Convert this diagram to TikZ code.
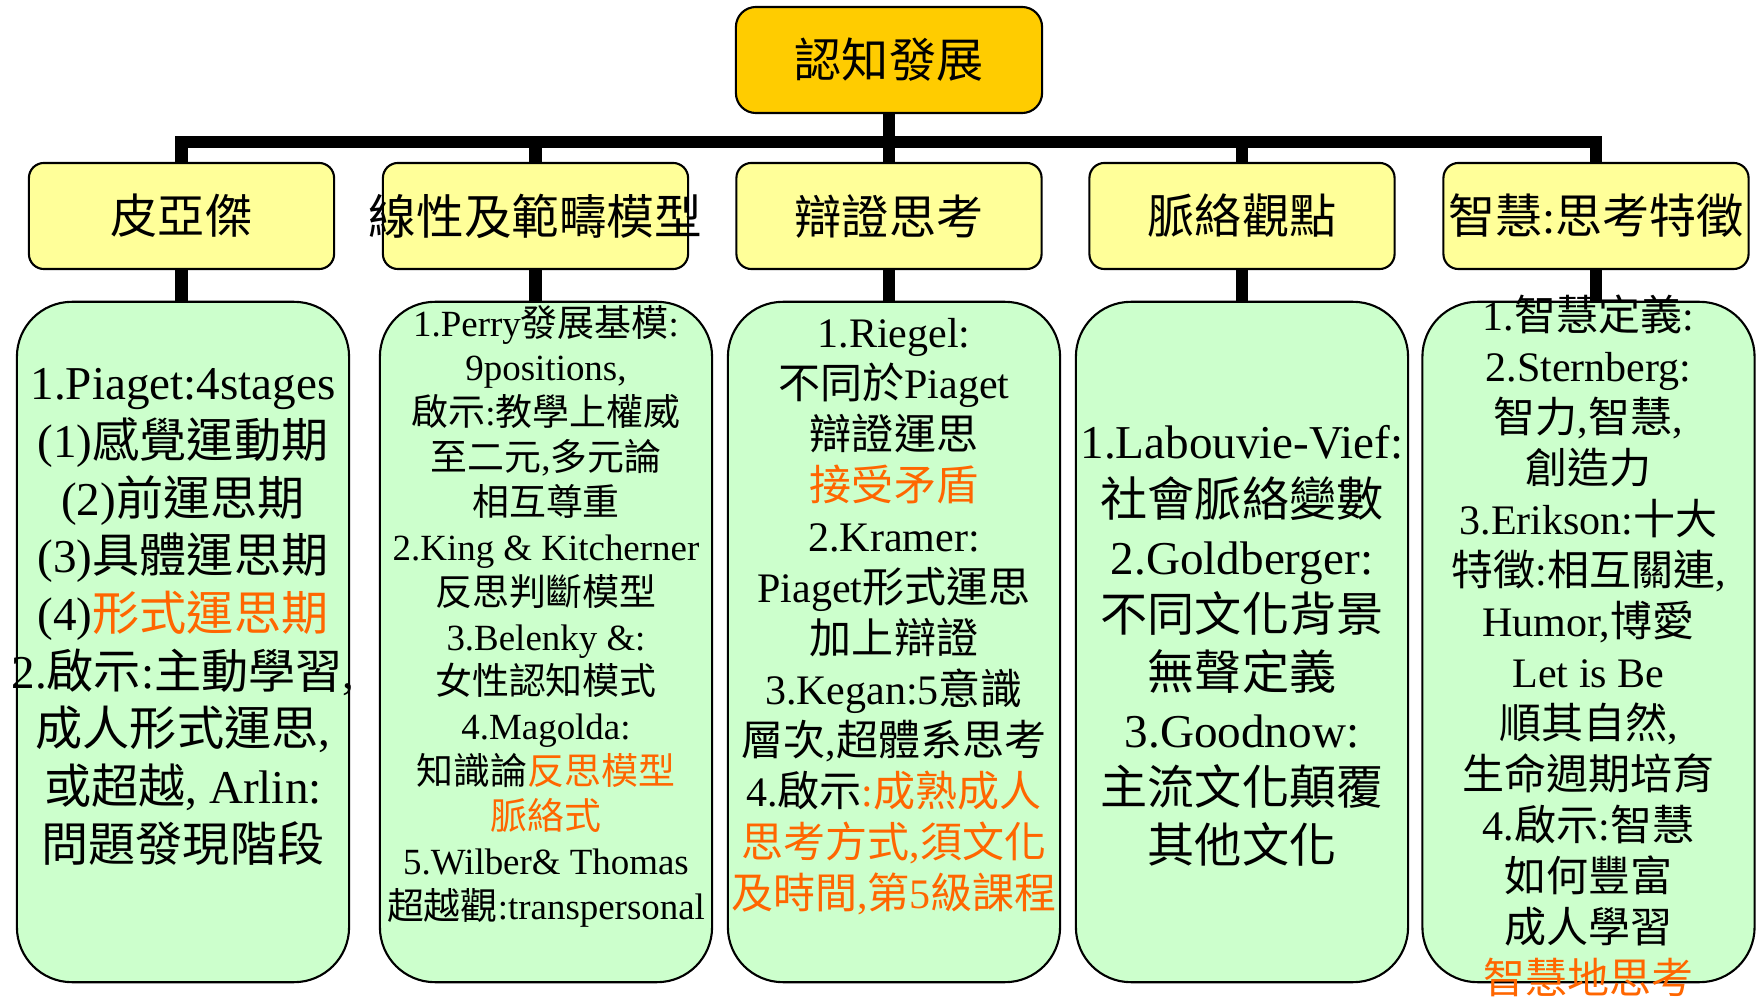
\documentclass[tikz,border=0pt]{standalone}
\usepackage{fontspec}
\setmainfont{Liberation Serif}
\newfontfamily\cjkfont{Noto Sans CJK TC}
\newfontfamily\latfont{Liberation Serif}
\XeTeXinterchartokenstate=1
\newXeTeXintercharclass\hanclass
\count255="4E00
\loop
  \XeTeXcharclass\count255=\hanclass
\ifnum\count255<"9FFF \advance\count255 by 1
\repeat
\XeTeXinterchartoks 0 \hanclass = {\cjkfont}
\XeTeXinterchartoks 4095 \hanclass = {\cjkfont}
\XeTeXinterchartoks \hanclass 0 = {\latfont}
\XeTeXinterchartoks 4095 0 = {\latfont}
\definecolor{rootfill}{HTML}{FFCC00}
\definecolor{headfill}{HTML}{FFFF99}
\definecolor{leaffill}{HTML}{CCFFCC}
\definecolor{accent}{HTML}{FF6600}
\begin{document}
\begin{tikzpicture}[x=0.01cm,y=-0.01cm]
	\tikzstyle{every node}+=[inner sep=0pt]
	\tikzset{
		root/.style={draw=black,line width=0.6pt,fill=rootfill,rounded corners=0.2cm,
			minimum width=3.06cm,minimum height=1.06cm,font=\fontsize{13.4}{16}\selectfont},
		head/.style={draw=black,line width=0.6pt,fill=headfill,rounded corners=0.15cm,
			minimum width=3.05cm,minimum height=1.06cm,font=\fontsize{13.4}{16}\selectfont},
		leaf/.style={draw=black,line width=0.6pt,fill=leaffill,rounded corners=0.55cm,
			minimum width=3.32cm,minimum height=6.8cm},
		big/.style={align=center,font=\fontsize{13.4}{16.4}\selectfont},
		mid/.style={align=center,font=\fontsize{11.95}{14.5}\selectfont},
		small/.style={align=center,font=\fontsize{10.5}{12.75}\selectfont},
		conn/.style={line width=0.12cm}
	}
	\useasboundingbox (0,0) rectangle (1756,997);
	\node [root] (root) at (889,60) {認知發展};
	\node [head] (s1) at (181.5,216) {皮亞傑};
	\node [head] (s2) at (535.5,216) {\makebox[0pt]{\fontsize{13.55}{16}\selectfont 線性及範疇模型}};
	\node [head] (s3) at (889,216) {辯證思考};
	\node [head] (s4) at (1242,216) {脈絡觀點};
	\node [head] (s5) at (1596,216) {\makebox[0pt]{智慧:思考特徵}};
	\node [leaf] (d1) at (183,642) {};
	\node [leaf] (d2) at (546,642) {};
	\node [leaf] (d3) at (894,642) {};
	\node [leaf] (d4) at (1242,642) {};
	\node [leaf] (d5) at (1588.5,642) {};
	\node [big] (t1) at (183,617) {1.Piaget:4stages\\(1)感覺運動期\\(2)前運思期\\(3)具體運思期\\(4){\color{accent}形式運思期}\\2.啟示:主動學習,\\成人形式運思,\\或超越, Arlin:\\問題發現階段};
	\node [small] (t2) at (546,616) {1.Perry發展基模:\\9positions,\\啟示:教學上權威\\至二元,多元論\\相互尊重\\2.King \& Kitcherner\\反思判斷模型\\3.Belenky \&:\\女性認知模式\\4.Magolda:\\知識論{\color{accent}反思模型}\\{\color{accent}脈絡式}\\5.Wilber\& Thomas\\超越觀:transpersonal};
	\node [mid] (t3) at (894,617) {1.Riegel:\\不同於Piaget\\辯證運思\\{\color{accent}接受矛盾}\\2.Kramer:\\Piaget形式運思\\加上辯證\\3.Kegan:5意識\\層次,超體系思考\\4.啟示{\color{accent}:成熟成人}\\{\color{accent}思考方式,須文化}\\{\color{accent}及時間,第5級課程}};
	\node [big] (t4) at (1242,646) {1.Labouvie-Vief:\\社會脈絡變數\\2.Goldberger:\\不同文化背景\\無聲定義\\3.Goodnow:\\主流文化顛覆\\其他文化};
	\node [mid] (t5) at (1588.5,646) {1.智慧定義:\\2.Sternberg:\\智力,智慧,\\創造力\\3.Erikson:十大\\特徵:相互關連,\\Humor,博愛\\Let is Be\\順其自然,\\生命週期培育\\4.啟示:智慧\\如何豐富\\成人學習\\{\color{accent}智慧地思考}};
	\draw [conn] (root.south) -- ++(0,27.5) -| (s1.north);
	\draw [conn] (root.south) -- ++(0,27.5) -| (s2.north);
	\draw [conn] (root.south) -- (s3.north);
	\draw [conn] (root.south) -- ++(0,27.5) -| (s4.north);
	\draw [conn] (root.south) -- ++(0,27.5) -| (s5.north);
	\draw [conn] (s1.south) -- (s1.south |- d1.north);
	\draw [conn] (s2.south) -- (s2.south |- d2.north);
	\draw [conn] (s3.south) -- (s3.south |- d3.north);
	\draw [conn] (s4.south) -- (s4.south |- d4.north);
	\draw [conn] (s5.south) -- (s5.south |- d5.north);
\end{tikzpicture}
\end{document}
